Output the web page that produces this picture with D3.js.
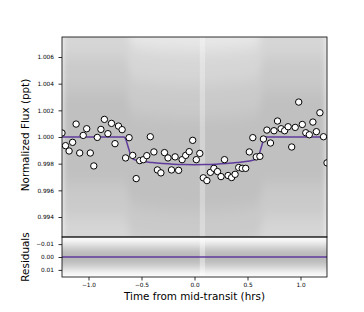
<!DOCTYPE html>
<html>
<head>
<meta charset="utf-8">
<script src="https://cdn.jsdelivr.net/npm/d3@7"></script>
<style>
  html, body { margin: 0; padding: 0; background: #fff; }
  svg { display: block; font-family: "DejaVu Sans", sans-serif; }
</style>
</head>
<body>
<script>
// binned light curve, 2 minute bins (hours from mid-transit)
const binTime = [
  -1.250, -1.217, -1.183, -1.150, -1.117, -1.083, -1.050, -1.017, -0.983, -0.950,
  -0.917, -0.883, -0.850, -0.817, -0.783, -0.750, -0.717, -0.683, -0.650, -0.617,
  -0.583, -0.550, -0.517, -0.483, -0.450, -0.417, -0.383, -0.350, -0.317, -0.283,
  -0.250, -0.217, -0.183, -0.150, -0.117, -0.083, -0.050, -0.017, 0.017, 0.050,
  0.083, 0.117, 0.150, 0.183, 0.217, 0.250, 0.283, 0.317, 0.350, 0.383,
  0.417, 0.450, 0.483, 0.517, 0.550, 0.583, 0.617, 0.650, 0.683, 0.717,
  0.750, 0.783, 0.817, 0.850, 0.883, 0.917, 0.950, 0.983, 1.017, 1.050,
  1.083, 1.117, 1.150, 1.183, 1.217, 1.250
];
const binFlux = [
  1.00030, 0.99935, 0.99895, 0.99960, 1.00097, 0.99880, 1.00012, 1.00062, 0.99880, 0.99783,
  0.99997, 1.00057, 1.00132, 1.00025, 1.00102, 0.99950, 1.00082, 1.00055, 0.99843, 0.99995,
  0.99862, 0.99688, 0.99823, 0.99830, 0.99860, 1.00002, 0.99888, 0.99753, 0.99731, 0.99883,
  0.99843, 0.99753, 0.99851, 0.99750, 0.99830, 0.99862, 0.99890, 0.99975, 0.99830, 0.99877,
  0.99694, 0.99673, 0.99735, 0.99765, 0.99741, 0.99703, 0.99830, 0.99711, 0.99696, 0.99720,
  0.99771, 0.99765, 0.99765, 0.99888, 0.99995, 0.99851, 0.99855, 0.99985, 1.00052, 0.99955,
  1.00047, 1.00120, 1.00062, 1.00047, 1.00077, 0.99925, 1.00072, 1.00262, 1.00094, 1.00032,
  1.00017, 1.00112, 1.00040, 1.00182, 1.00002, 0.99806
];

// transit model
const modelTime = [
  -1.25, -0.665, -0.65, -0.635, -0.62, -0.605, -0.59, -0.578, -0.55, -0.5,
  -0.4, -0.3, -0.2, -0.1, 0, 0.1, 0.2, 0.3, 0.4, 0.5,
  0.55, 0.583, 0.595, 0.61, 0.625, 0.64, 0.655, 0.67, 1.25
];
const modelFlux = [
  1, 1, 0.99985, 0.9995, 0.9991, 0.9987, 0.99845, 0.99834, 0.99826, 0.99818,
  0.99808, 0.99801, 0.99796, 0.99793, 0.99792, 0.99793, 0.99796, 0.99801, 0.99808, 0.99818,
  0.99826, 0.99834, 0.99845, 0.9987, 0.9991, 0.9995, 0.99985, 1, 1
];

// unbinned points: spread of the cloud around the model / around zero
const rawSpread = [0.0110, 0.0085, 0.0060, 0.0035];
const residSpread = [0.0125, 0.0085, 0.0045];
const dataGap = [0.05, 0.10];

const xTicks = [-1.0, -0.5, 0.0, 0.5, 1.0];
const fluxTicks = [0.994, 0.996, 0.998, 1.000, 1.002, 1.004, 1.006];
const residTicks = [-0.01, 0.00, 0.01];

const W = 364, H = 312;
const left = 62, right = 327;
const mainTop = 37, mainBottom = 237, resBottom = 277;
const purple = '#5f3b9c';
const tickFont = 5.8, labelFont = 10.4;

const svg = d3.select('body').append('svg')
  .attr('width', W)
  .attr('height', H);

const x = d3.scaleLinear().domain([-1.25, 1.25]).range([left, right]);
const yFlux = d3.scaleLinear().domain([0.9925, 1.0075]).range([mainBottom, mainTop]);
const yRes = d3.scaleLinear().domain([0.0155, -0.0155]).range([resBottom, mainBottom]);

const model = modelTime.map((t, i) => ({ t, f: modelFlux[i] }));
const bins = binTime.map((t, i) => ({ t, f: binFlux[i] }));

const defs = svg.append('defs');
defs.append('clipPath').attr('id', 'clip-main')
  .append('rect')
  .attr('x', left).attr('y', mainTop)
  .attr('width', right - left).attr('height', mainBottom - mainTop);
defs.append('clipPath').attr('id', 'clip-res')
  .append('rect')
  .attr('x', left).attr('y', mainBottom)
  .attr('width', right - left).attr('height', resBottom - mainBottom);
defs.append('filter').attr('id', 'soft')
  .attr('x', '-10%').attr('y', '-40%').attr('width', '120%').attr('height', '180%')
  .append('feGaussianBlur').attr('stdDeviation', '3 8');
defs.append('filter').attr('id', 'soft-res')
  .attr('x', '-10%').attr('y', '-40%').attr('width', '120%').attr('height', '180%')
  .append('feGaussianBlur').attr('stdDeviation', '1 3');

// ---- main panel ----
const main = svg.append('g').attr('clip-path', 'url(#clip-main)');

// cloud of unbinned points + error bars, drawn as bands following the model
const cloud = main.append('g').attr('filter', 'url(#soft)');
const bandOpacity = [0.09, 0.08, 0.06, 0.05];
rawSpread.forEach((w, i) => {
  const band = d3.area()
    .x(d => x(d.t))
    .y0(d => yFlux(d.f - w))
    .y1(d => yFlux(d.f + w))
    .curve(d3.curveMonotoneX);
  cloud.append('path')
    .datum(model)
    .attr('d', band)
    .attr('fill', '#000')
    .attr('fill-opacity', bandOpacity[i]);
});

main.append('rect')
  .attr('x', x(dataGap[0])).attr('width', x(dataGap[1]) - x(dataGap[0]))
  .attr('y', mainTop).attr('height', mainBottom - mainTop)
  .attr('fill', '#fff').attr('fill-opacity', 0.3);

const line = d3.line()
  .x(d => x(d.t))
  .y(d => yFlux(d.f))
  .curve(d3.curveMonotoneX);

main.append('path')
  .datum(model)
  .attr('d', line)
  .attr('fill', 'none')
  .attr('stroke', purple)
  .attr('stroke-width', 1.5);

main.append('g')
  .selectAll('circle')
  .data(bins)
  .join('circle')
  .attr('cx', d => x(d.t))
  .attr('cy', d => yFlux(d.f))
  .attr('r', 3.2)
  .attr('fill', '#fff')
  .attr('stroke', '#000')
  .attr('stroke-width', 1);

// ---- residual panel ----
const res = svg.append('g').attr('clip-path', 'url(#clip-res)');
const resCloud = res.append('g').attr('filter', 'url(#soft-res)');
const resOpacity = [0.09, 0.12, 0.10];
residSpread.forEach((w, i) => {
  resCloud.append('rect')
    .attr('x', left - 10).attr('width', right - left + 20)
    .attr('y', yRes(-w)).attr('height', yRes(w) - yRes(-w))
    .attr('fill', '#000')
    .attr('fill-opacity', resOpacity[i]);
});
res.append('rect')
  .attr('x', x(dataGap[0])).attr('width', x(dataGap[1]) - x(dataGap[0]))
  .attr('y', mainBottom).attr('height', resBottom - mainBottom)
  .attr('fill', '#fff').attr('fill-opacity', 0.4);
res.append('line')
  .attr('x1', left).attr('x2', right)
  .attr('y1', yRes(0)).attr('y2', yRes(0))
  .attr('stroke', purple)
  .attr('stroke-width', 1.5);

// ---- axes ----
function styleAxis(g) {
  g.select('.domain').remove();
  g.selectAll('.tick line').attr('stroke', '#000').attr('stroke-width', 0.8);
  g.selectAll('.tick text')
    .attr('font-family', '"DejaVu Sans", sans-serif')
    .attr('font-size', tickFont)
    .attr('fill', '#000');
}

svg.append('g')
  .attr('transform', `translate(${left},0)`)
  .call(d3.axisLeft(yFlux).tickValues(fluxTicks).tickFormat(d3.format('.3f'))
    .tickSize(3.5).tickPadding(4.5))
  .call(styleAxis);

svg.append('g')
  .attr('transform', `translate(${left},0)`)
  .call(d3.axisLeft(yRes).tickValues(residTicks).tickFormat(d3.format('.2f'))
    .tickSize(3.5).tickPadding(4.5))
  .call(styleAxis);

svg.append('g')
  .attr('transform', `translate(0,${resBottom})`)
  .call(d3.axisBottom(x).tickValues(xTicks).tickFormat(d3.format('.1f'))
    .tickSize(3.5).tickPadding(2.5))
  .call(styleAxis);

// frames
[[mainTop, mainBottom], [mainBottom, resBottom]].forEach(([t, b]) => {
  svg.append('rect')
    .attr('x', left).attr('y', t)
    .attr('width', right - left).attr('height', b - t)
    .attr('fill', 'none')
    .attr('stroke', '#000')
    .attr('stroke-width', 0.8);
});

// labels
svg.append('text')
  .attr('transform', `translate(25,${(mainTop + mainBottom) / 2 - 2}) rotate(-90)`)
  .attr('text-anchor', 'middle')
  .attr('dy', '0.35em')
  .attr('font-size', labelFont)
  .text('Normalized Flux (ppt)');

svg.append('text')
  .attr('transform', `translate(25,${(mainBottom + resBottom) / 2}) rotate(-90)`)
  .attr('text-anchor', 'middle')
  .attr('dy', '0.35em')
  .attr('font-size', labelFont)
  .text('Residuals');

svg.append('text')
  .attr('x', (left + right) / 2)
  .attr('y', 300)
  .attr('text-anchor', 'middle')
  .attr('font-size', labelFont)
  .text('Time from mid-transit (hrs)');
</script>
</body>
</html>
